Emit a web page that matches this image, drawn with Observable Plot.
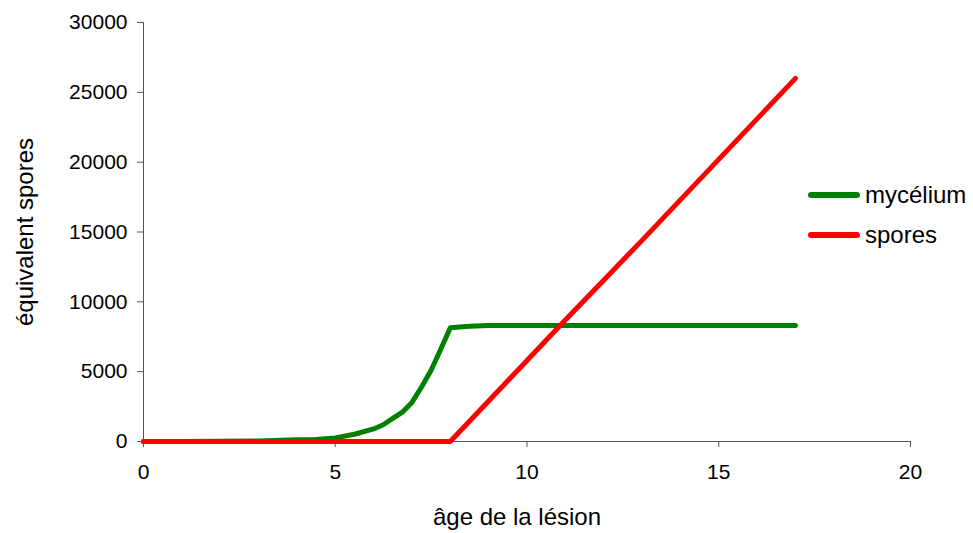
<!DOCTYPE html>
<html><head><meta charset="utf-8">
<script src="https://cdn.jsdelivr.net/npm/d3@7"></script>
<script src="https://cdn.jsdelivr.net/npm/@observablehq/plot@0.6"></script>
<style>
body{margin:0;background:#fff;font-family:"Liberation Sans",Arial,sans-serif;}
#wrap{position:relative;width:973px;height:533px;}
#legend{position:absolute;left:808px;top:175px;font-size:24px;color:#000;}
.item{display:flex;align-items:center;height:40px;}
.sw{width:52px;height:6px;border-radius:3px;margin-right:5px;}
</style></head>
<body><div id="wrap"><div id="legend"></div></div>
<script>
const seriesNames = ["mycélium", "spores"];
const seriesColors = ["#008000", "#ff0000"];
const myceliumAge = [0,1,2,3,4,4.5,5,5.5,6,6.25,6.5,6.75,7,7.25,7.5,7.75,8,8.5,9,10,11,12,13,14,15,16,17];
const myceliumVal = [0,0,10,40,120,150,260,520,900,1200,1650,2100,2800,3900,5100,6600,8150,8250,8300,8300,8300,8300,8300,8300,8300,8300,8300];
const sporesAge = [0,1,2,3,4,5,6,7,8,9,10,11,12,13,14,15,16,17];
const sporesVal = [0,0,0,0,0,0,0,0,0,2900,5800,8700,11550,14400,17300,20200,23100,26000];
const xTicks = [0,5,10,15,20];
const yTicks = [0,5000,10000,15000,20000,25000,30000];
const xTitle = "âge de la lésion";
const yTitle = "équivalent spores";

const data = [
  ...myceliumAge.map((a,i)=>({age:a, v:myceliumVal[i], s:seriesNames[0]})),
  ...sporesAge.map((a,i)=>({age:a, v:sporesVal[i], s:seriesNames[1]}))
];

const chart = Plot.plot({
  width: 973, height: 533,
  marginLeft: 143, marginRight: 63, marginTop: 22, marginBottom: 92,
  style: {fontFamily: '"Liberation Sans", Arial, sans-serif', fontSize: "21px", color: "#000", background: "#fff"},
  x: {domain: [0,20]},
  y: {domain: [0,30000]},
  color: {domain: seriesNames, range: seriesColors},
  marks: [
    Plot.axisX({ticks: xTicks, tickSize: 6, tickPadding: 17, tickFormat: d => String(d), label: null, stroke: "#555", fill: "#000"}),
    Plot.axisY({ticks: yTicks, tickSize: 6, tickPadding: 10, tickFormat: d => String(d), label: null, stroke: "#555", fill: "#000"}),
    Plot.ruleX([0], {stroke: "#555"}),
    Plot.ruleY([0], {stroke: "#555"}),
    Plot.text([xTitle], {frameAnchor: "bottom", textAnchor: "middle", dx: -10, dy: 76, lineAnchor: "middle", fontSize: 24, fill: "#000"}),
    Plot.text([yTitle], {frameAnchor: "left", textAnchor: "middle", dx: -118, dy: 0, rotate: -90, lineAnchor: "middle", fontSize: 24, fill: "#000"}),
    Plot.line(data, {x: "age", y: "v", z: "s", stroke: "s", strokeWidth: 5, strokeLinejoin: "round"})
  ]
});
document.getElementById("wrap").prepend(chart);
const lg = document.getElementById("legend");
seriesNames.forEach((n,i)=>{
  const d = document.createElement("div"); d.className="item";
  d.innerHTML = `<span class="sw" style="background:${seriesColors[i]}"></span><span>${n}</span>`;
  lg.appendChild(d);
});
</script></body></html>
